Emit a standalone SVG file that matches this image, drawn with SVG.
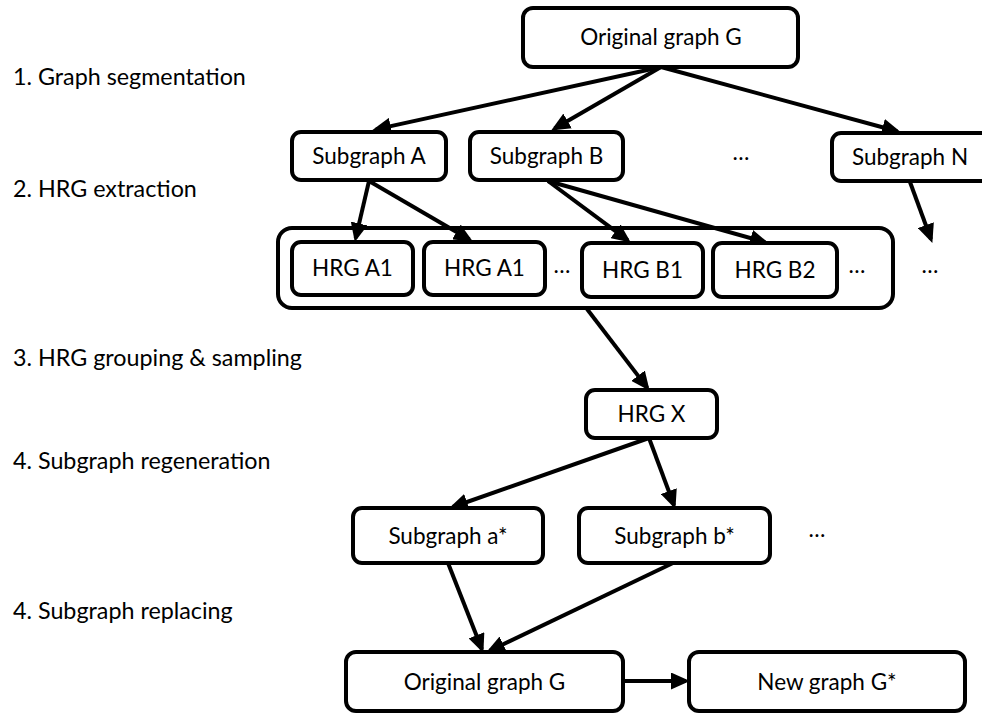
<svg xmlns="http://www.w3.org/2000/svg" width="982" height="714" viewBox="0 0 982 714">
<style>
  .box { fill: #ffffff; stroke: #000000; stroke-width: 4; }
  .t { font-family: Lato, "Open Sans", "Liberation Sans", sans-serif; font-size: 22.5px; fill: #000000; text-anchor: middle; }
  .lbl { font-family: Lato, "Open Sans", "Liberation Sans", sans-serif; font-size: 23.3px; fill: #000000; }
  .c { fill: none; stroke: #000000; stroke-width: 4; marker-end: url(#ah); }
</style>
<defs>
  <marker id="ah" markerUnits="userSpaceOnUse" markerWidth="19" markerHeight="17" refX="15" refY="8.5" orient="auto">
    <path d="M0,0 L19,8.5 L0,17 z" fill="#000000"/>
  </marker>
</defs>
<rect width="982" height="714" fill="#ffffff"/>

<g id="labels">
  <text class="lbl" x="13" y="85">1. Graph segmentation</text>
  <text class="lbl" x="13" y="197">2. HRG extraction</text>
  <text class="lbl" x="13" y="366">3. HRG grouping &amp; sampling</text>
  <text class="lbl" x="13" y="469">4. Subgraph regeneration</text>
  <text class="lbl" x="13" y="619">4. Subgraph replacing</text>
</g>

<g id="node-hrg-group">
  <rect class="box" x="278" y="228" width="615" height="80" rx="14"/>
</g>

<g id="connectors">
  <line class="c" x1="661" y1="67" x2="376" y2="129.4"/>
  <line class="c" x1="661" y1="67" x2="554.6" y2="128.5"/>
  <line class="c" x1="661" y1="67" x2="897.1" y2="131.2"/>
  <line class="c" x1="369" y1="181" x2="355.7" y2="238.1"/>
  <line class="c" x1="369" y1="181" x2="469.4" y2="239.5"/>
  <line class="c" x1="548" y1="181" x2="627.6" y2="240.2"/>
  <line class="c" x1="548" y1="181" x2="765.1" y2="242.2"/>
  <line class="c" x1="910" y1="182" x2="931" y2="239.2"/>
  <line class="c" x1="587" y1="309" x2="647.2" y2="387.6"/>
  <line class="c" x1="649" y1="438" x2="452.8" y2="507"/>
  <line class="c" x1="649" y1="438" x2="674" y2="505.2"/>
  <line class="c" x1="448" y1="563" x2="481.9" y2="649.2"/>
  <line class="c" x1="673" y1="563" x2="489.7" y2="650.7"/>
  <line class="c" x1="623" y1="681" x2="686" y2="681"/>
</g>

<g id="node-original-top">
  <rect class="box" x="523" y="8" width="275" height="59" rx="10"/>
  <text class="t" x="661" y="45">Original graph G</text>
</g>
<g id="node-subgraph-a">
  <rect class="box" x="292" y="132" width="154" height="48" rx="9"/>
  <text class="t" x="369" y="164">Subgraph A</text>
</g>
<g id="node-subgraph-b">
  <rect class="box" x="470" y="132" width="153" height="48" rx="9"/>
  <text class="t" x="546.5" y="164">Subgraph B</text>
</g>
<g id="dots-subgraphs">
  <text class="t" x="741" y="160">…</text>
</g>
<g id="node-subgraph-n">
  <rect class="box" x="832" y="133" width="160" height="48" rx="9"/>
  <text class="t" x="910" y="165">Subgraph N</text>
</g>

<g id="node-hrg-a1-1">
  <rect class="box" x="292" y="242" width="121" height="53" rx="9"/>
  <text class="t" x="352.5" y="276">HRG A1</text>
</g>
<g id="node-hrg-a1-2">
  <rect class="box" x="424" y="242" width="121" height="53" rx="9"/>
  <text class="t" x="484.5" y="276">HRG A1</text>
</g>
<g id="dots-hrg-1">
  <text class="t" x="562" y="273">…</text>
</g>
<g id="node-hrg-b1">
  <rect class="box" x="582" y="243" width="121" height="54" rx="9"/>
  <text class="t" x="642.5" y="278">HRG B1</text>
</g>
<g id="node-hrg-b2">
  <rect class="box" x="713" y="243" width="124" height="54" rx="9"/>
  <text class="t" x="775" y="278">HRG B2</text>
</g>
<g id="dots-hrg-2">
  <text class="t" x="857" y="273">…</text>
</g>
<g id="dots-hrg-n">
  <text class="t" x="930" y="273">…</text>
</g>

<g id="node-hrg-x">
  <rect class="box" x="586" y="390" width="131" height="48" rx="9"/>
  <text class="t" x="651.5" y="422">HRG X</text>
</g>
<g id="node-subgraph-a-star">
  <rect class="box" x="353" y="508" width="190" height="55" rx="9"/>
  <text class="t" x="448" y="544">Subgraph a*</text>
</g>
<g id="node-subgraph-b-star">
  <rect class="box" x="579" y="508" width="191" height="55" rx="9"/>
  <text class="t" x="674.5" y="544">Subgraph b*</text>
</g>
<g id="dots-regen">
  <text class="t" x="817" y="537">…</text>
</g>
<g id="node-original-bottom">
  <rect class="box" x="346" y="652" width="277" height="59" rx="10"/>
  <text class="t" x="484.5" y="690">Original graph G</text>
</g>
<g id="node-new-graph">
  <rect class="box" x="689" y="652" width="276" height="59" rx="10"/>
  <text class="t" x="827" y="690">New graph G*</text>
</g>
</svg>
